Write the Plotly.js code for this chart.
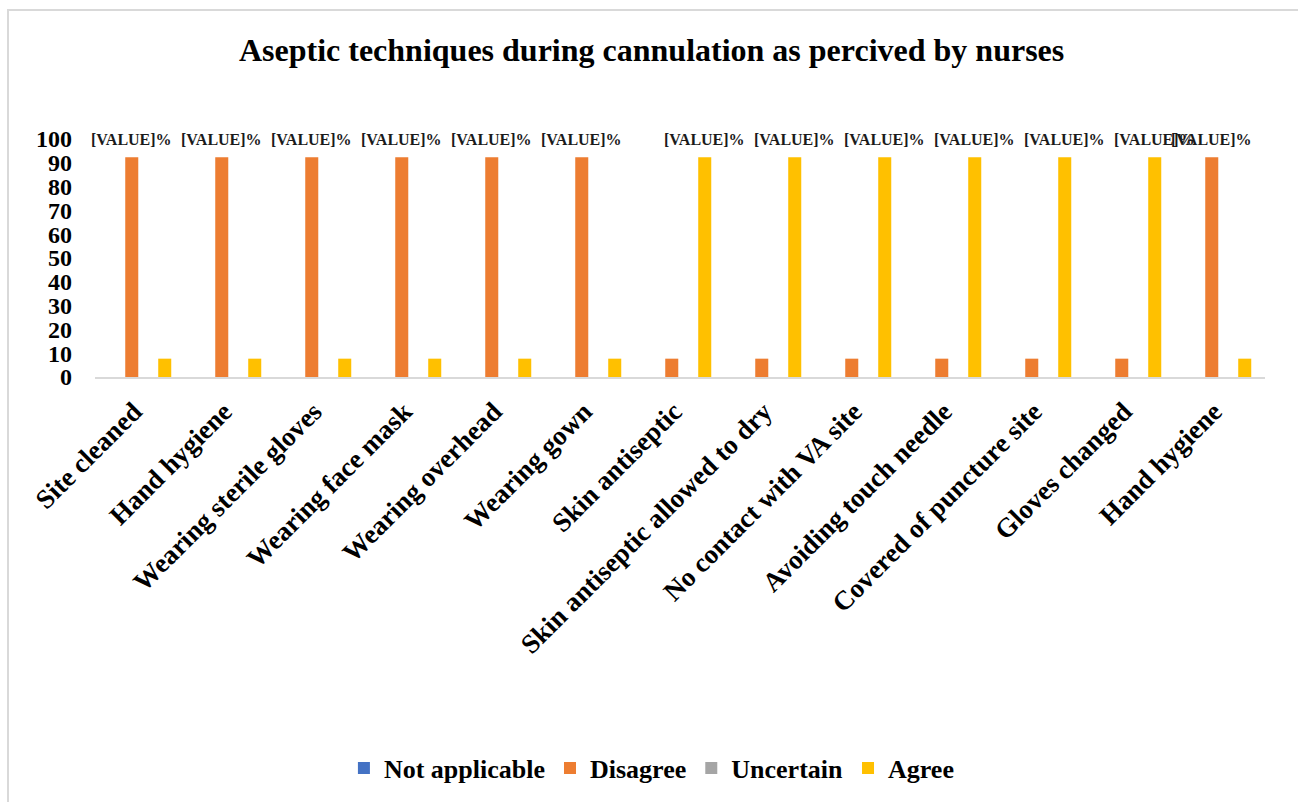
<!DOCTYPE html>
<html>
<head>
<meta charset="utf-8">
<script src="https://cdn.plot.ly/plotly-3.0.1.min.js"></script>
<style>
  html, body { margin: 0; padding: 0; background: #fff; }
  #wrap { position: relative; width: 1298px; height: 802px; overflow: hidden; }
  #chart { position: absolute; left: 0; top: 0; width: 1298px; height: 802px; }
  #frame { position: absolute; left: 7px; top: 9px; width: 1300px; height: 820px;
           border: 2px solid #d9d9d9; box-sizing: border-box; pointer-events: none; }
</style>
</head>
<body>
<div id="wrap">
  <div id="chart"></div>
  <div id="frame"></div>
</div>
<script>
const categories = [
  "Site cleaned", "Hand hygiene", "Wearing sterile gloves", "Wearing face mask",
  "Wearing overhead", "Wearing gown", "Skin antiseptic", "Skin antiseptic allowed to dry",
  "No contact with VA site", "Avoiding touch needle", "Covered of puncture site",
  "Gloves changed", "Hand hygiene"
];
const seriesNames = ["Not applicable", "Disagree", "Uncertain", "Agree"];
const notApplicable = [0, 0, 0, 0, 0, 0, 0, 0, 0, 0, 0, 0, 0];
const disagree = [92.3, 92.3, 92.3, 92.3, 92.3, 92.3, 7.7, 7.7, 7.7, 7.7, 7.7, 7.7, 92.3];
const uncertain = [0, 0, 0, 0, 0, 0, 0, 0, 0, 0, 0, 0, 0];
const agree = [7.7, 7.7, 7.7, 7.7, 7.7, 7.7, 92.3, 92.3, 92.3, 92.3, 92.3, 92.3, 7.7];
const seriesColors = ["#4472C4", "#ED7D31", "#A5A5A5", "#FFC000"];
const labelText = "[VALUE]%";
const yTicks = [0, 10, 20, 30, 40, 50, 60, 70, 80, 90, 100];

const FONT = "'Liberation Serif', 'Times New Roman', serif";
const xIdx = categories.map((_, i) => i);
const seriesData = [notApplicable, disagree, uncertain, agree];

const W = 1298, H = 802;
const margin = {l: 95, r: 33, t: 139, b: 424, pad: 0};
const bargap = 0.267, bargroupgap = 0.21;

const traces = seriesData.map((vals, s) => ({
  type: 'bar',
  name: seriesNames[s],
  x: xIdx,
  y: vals,
  marker: {color: seriesColors[s], line: {width: 0}},
  hoverinfo: 'skip'
}));

// data labels above the tallest bar of each category
const plotW = W - margin.l - margin.r;
const catPx = plotW / categories.length;
const slotPx = catPx * (1 - bargap) / seriesData.length;
const annotations = [];
xIdx.forEach(i => {
  let best = 0;
  seriesData.forEach((vals, s) => { if (vals[i] > seriesData[best][i]) best = s; });
  const shift = (best - (seriesData.length - 1) / 2) * slotPx;
  annotations.push({
    x: i, y: 100, xref: 'x', yref: 'y', text: labelText, showarrow: false,
    xshift: shift, yanchor: 'middle', xanchor: 'center',
    font: {family: FONT, size: 16, color: '#1a1a1a', weight: 'bold'}
  });
});

const layout = {
  width: W, height: H,
  margin: margin,
  paper_bgcolor: '#ffffff', plot_bgcolor: '#ffffff',
  barmode: 'group', bargap: bargap, bargroupgap: bargroupgap,
  title: {
    text: 'Aseptic techniques during cannulation as percived by nurses',
    font: {family: FONT, size: 32, color: '#000', weight: 'bold'},
    x: 0.502, xanchor: 'center', y: 1 - 50 / H, yanchor: 'middle', xref: 'container', yref: 'container'
  },
  xaxis: {
    tickmode: 'array', tickvals: xIdx, ticktext: categories,
    range: [-0.5, categories.length - 0.5],
    tickangle: -45, ticks: '', showgrid: false, zeroline: false,
    showline: true, linecolor: '#d9d9d9', linewidth: 2,
    ticklabelstandoff: 6, ticklabelshift: -6,
    tickfont: {family: FONT, size: 27, color: '#000', weight: 'bold'},
    fixedrange: true
  },
  yaxis: {
    range: [0, 100], tickmode: 'array', tickvals: yTicks,
    showgrid: false, zeroline: false, showline: false, ticks: '',
    ticklabelstandoff: 22,
    tickfont: {family: FONT, size: 24, color: '#000', weight: 'bold'},
    fixedrange: true
  },
  showlegend: true,
  legend: {
    orientation: 'h', x: 0.476, xanchor: 'center', y: -(768 - 378) / 239, yanchor: 'middle',
    font: {family: FONT, size: 26, color: '#000', weight: 'bold'},
    itemwidth: 30, tracegroupgap: 0, traceorder: 'normal'
  },
  annotations: annotations
};

Plotly.newPlot('chart', traces, layout, {displayModeBar: false, staticPlot: true});
</script>
</body>
</html>
